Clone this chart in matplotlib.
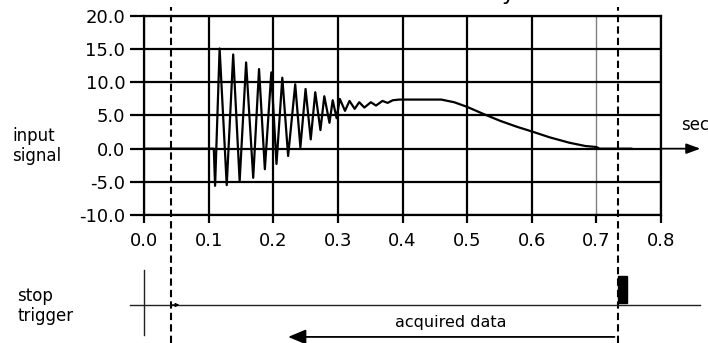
import matplotlib
matplotlib.use("Agg")
import matplotlib.pyplot as plt
from matplotlib.patches import Rectangle

W, H = 708, 343

# signal (time in s, amplitude)
sig_t = [0.000, 0.108, 0.110, 0.117, 0.128, 0.138, 0.148, 0.158, 0.169, 0.178,
         0.187, 0.197, 0.205, 0.214, 0.223, 0.234, 0.242, 0.250, 0.258, 0.265,
         0.273, 0.279, 0.287, 0.292, 0.298, 0.303, 0.311, 0.318, 0.326, 0.333,
         0.341, 0.351, 0.359, 0.369, 0.377, 0.385, 0.395, 0.460, 0.480, 0.500,
         0.526, 0.551, 0.577, 0.600, 0.628, 0.658, 0.683, 0.700, 0.705, 0.754]
sig_v = [0.0, 0.0, -5.6, 15.1, -5.5, 14.2, -4.9, 13.0, -4.4, 12.0,
         -3.1, 11.5, -2.3, 10.7, -1.1, 9.7, 0.2, 9.0, 1.4, 8.5,
         2.8, 7.9, 3.9, 7.3, 4.6, 7.5, 5.7, 7.2, 6.0, 7.0,
         6.2, 7.0, 6.5, 7.2, 6.9, 7.3, 7.4, 7.4, 7.0, 6.3,
         5.2, 4.2, 3.3, 2.6, 1.7, 0.9, 0.4, 0.25, 0.0, 0.0]

xticks = [0.0, 0.1, 0.2, 0.3, 0.4, 0.5, 0.6, 0.7, 0.8]
yticks = [-10, -5, 0, 5, 10, 15, 20]

TRIG = 0.042      # trigger time (dashed line)
STOP = 0.734      # stop trigger time
ACQ_START = 0.223 # left end of "acquired data" arrow


def px(x0, y0, x1, y1):
    return [x0 / W, 1 - y1 / H, (x1 - x0) / W, (y1 - y0) / H]


fig = plt.figure(figsize=(W / 100, H / 100), dpi=100)
plt.rcParams['font.family'] = 'DejaVu Sans'

ax = fig.add_axes(px(144, 16, 661, 215))
ax.set_xlim(0, 0.8)
ax.set_ylim(-10, 20)
ax.set_xticks(xticks)
ax.set_xticklabels(['%.1f' % v for v in xticks])
ax.set_yticks(yticks)
ax.set_yticklabels(['%.1f' % v for v in yticks])
ax.grid(True, color='black', lw=1.6)
for s in ax.spines.values():
    s.set_linewidth(1.6)
ax.tick_params(axis='y', direction='out', length=10, width=1.6, pad=3.5,
               labelsize=13, colors='black')
ax.tick_params(axis='x', direction='out', length=6, width=1.6, pad=6,
               labelsize=13, colors='black')
g7 = ax.get_xgridlines()[7]
g7.set_color('0.5')
g7.set_linewidth(1.0)

ax.plot(sig_t, sig_v, color='black', lw=1.6, zorder=3)

# trigger lines spanning the whole picture
ymin = (215 - 343) / 199
ymax = (215 - 7) / 199
for tt in (TRIG, STOP):
    ax.axvline(tt, ymin=ymin, ymax=ymax, color='black', lw=1.5,
               ls=(0, (3.5, 2)), clip_on=False, zorder=4)

# time axis arrow
ax.annotate('', xy=(0.861, 0), xytext=(0.8, 0), annotation_clip=False,
            arrowprops=dict(arrowstyle='-|>,head_length=0.6,head_width=0.22',
                            mutation_scale=14, lw=1.3, color='black',
                            shrinkA=0, shrinkB=0))

fig.text(12 / W, 1 - 146 / H, 'input\nsignal', fontsize=12, va='center',
         ha='left', linespacing=1.15)
fig.text(681 / W, 1 - 125 / H, 'sec', fontsize=12, va='center', ha='left')
# tail of a caption letter cut off at the top edge, as in the source
fig.text(501 / W, 1.0, 'y', fontsize=16, va='baseline', ha='left')

# stop trigger timeline
tax = fig.add_axes(px(144, 267, 661, 343))
tax.set_xlim(0, 0.8)
tax.set_ylim(-1, 1)
tax.axis('off')
tax.plot([-0.022, 0.86], [0, 0], color='#222222', lw=1.0, clip_on=False)
tax.plot([0, 0], [-0.79, 0.92], color='#222222', lw=1.0, clip_on=False)
tax.annotate('', xy=(TRIG + 0.013, 0), xytext=(TRIG, 0),
             arrowprops=dict(arrowstyle='-|>', mutation_scale=5, lw=1,
                             color='black', shrinkA=0, shrinkB=0))
tax.add_patch(Rectangle((STOP, 0.05), 0.013, 0.71, color='black', clip_on=False))
tax.annotate('', xy=(ACQ_START, -0.84), xytext=(STOP - 0.006, -0.84),
             arrowprops=dict(arrowstyle='-|>,head_length=0.6,head_width=0.25',
                             mutation_scale=18, lw=1.3, color='black',
                             shrinkA=0, shrinkB=0))
tax.text(0.475, -0.45, 'acquired data', fontsize=11.5, ha='center', va='center')

fig.text(17 / W, 1 - 306 / H, 'stop\ntrigger', fontsize=12, va='center',
         ha='left', linespacing=1.15)

fig.savefig('out.png', dpi=100)
